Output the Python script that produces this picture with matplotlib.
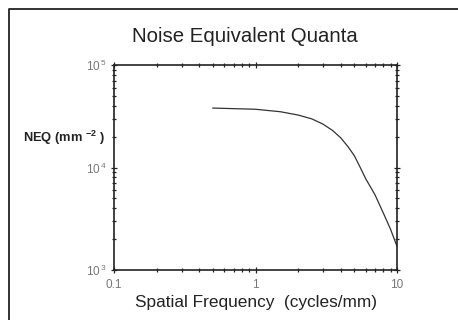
import numpy as np
import matplotlib
matplotlib.use("Agg")
import matplotlib.pyplot as plt
from matplotlib.lines import Line2D

plt.rcParams['font.family'] = ['Liberation Sans', 'DejaVu Sans']
plt.rcParams['mathtext.fontset'] = 'custom'
plt.rcParams['mathtext.rm'] = 'Liberation Sans'
plt.rcParams['mathtext.it'] = 'Liberation Sans'
plt.rcParams['mathtext.bf'] = 'Liberation Sans:bold'

#---------------------- data ----------------------
freq = [0.5, 1.0, 1.5, 2.0, 2.5, 3.0, 3.5, 4.0, 4.5, 5.0, 5.5, 6.0, 7.0, 8.0, 9.0, 10.0]
neq = [38000, 37000, 35000, 32500, 29800, 26500, 23000, 19500, 16000, 13000, 10000, 7800,
       5400, 3600, 2500, 1700]

x_ticks = [0.1, 1, 10]
x_labels = ['0.1', '1', '10']
y_ticks = [1e3, 1e4, 1e5]
y_labels = [r'$10^{\,3}$', r'$10^{\,4}$', r'$10^{\,5}$']

#---------------------- figure ----------------------
fig = plt.figure(figsize=(4.58, 3.2), dpi=100)
# outer frame: only the left and top edges are inside the picture
fx, fy = 8.5 / 458, 1 - 8.5 / 320
fig.lines.append(Line2D([fx, fx, 1.0], [0.0, fy, fy], transform=fig.transFigure,
                        color='#222222', linewidth=1.3))

ax = fig.add_axes([114 / 458, 1 - 270 / 320, 283 / 458, 205 / 320])
ax.plot(freq, neq, color='#333333', linewidth=0.9)
ax.set_xscale('log')
ax.set_yscale('log')
ax.set_xlim(0.1, 10)
ax.set_ylim(1e3, 1e5)

ax.set_xticks(x_ticks)
ax.set_xticklabels(x_labels)
ax.set_yticks(y_ticks)
ax.set_yticklabels(y_labels)

for s in ax.spines.values():
    s.set_linewidth(1.2)
    s.set_color('#222222')
ax.tick_params(which='both', direction='inout', top=True, right=True,
               color='#222222', labelcolor='#777777', labelsize=8.5, width=0.9)
ax.tick_params(which='major', length=5)
ax.tick_params(which='minor', length=3)
ax.tick_params(axis='x', pad=4)
ax.tick_params(axis='y', pad=3)

fig.text(245 / 458, 1 - 36 / 320, 'Noise Equivalent Quanta', ha='center', va='center',
         fontsize=14.7, color='#222222')
ax.set_xlabel('Spatial Frequency  (cycles/mm)', fontsize=12.4, color='#222222', labelpad=3)
fig.text(23 / 458, 1 - 138 / 320, r'NEQ (mm $^{\mathbf{-2}}$ )', ha='left', va='center',
         fontsize=9.3, fontweight='bold', color='#222222')

fig.savefig('out.png', dpi=100)
